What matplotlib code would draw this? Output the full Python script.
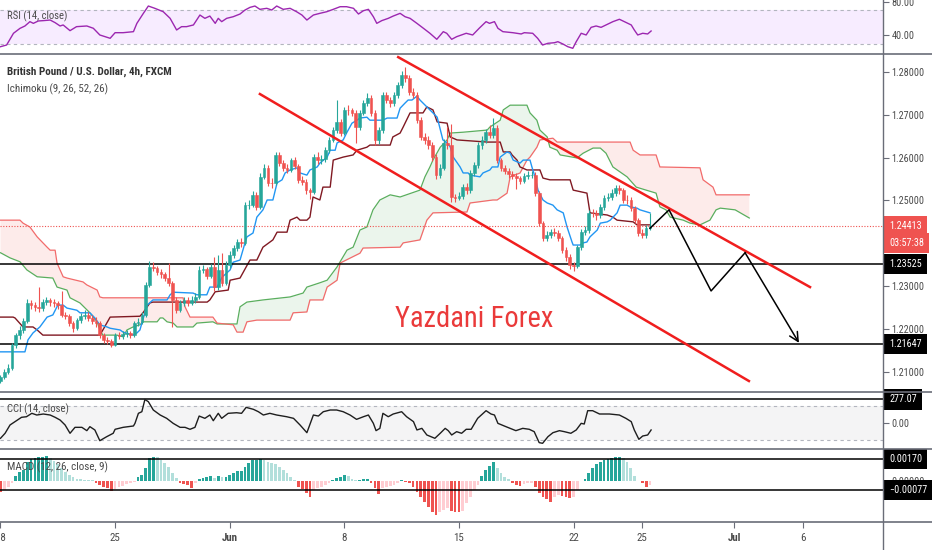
import numpy as np
import matplotlib
matplotlib.use('Agg')
import matplotlib.pyplot as plt
import matplotlib.transforms as mtransforms
from matplotlib import font_manager
from matplotlib.lines import Line2D

# the screenshot uses a narrow face; take the narrowest one installed
installed = {(f.name, f.stretch) for f in font_manager.fontManager.ttflist}
family, stretch = 'Liberation Sans', 'normal'
for cand in [('Liberation Sans Narrow', None), ('Roboto Condensed', None),
             ('Roboto', 'condensed'), ('DejaVu Sans', 'condensed')]:
    hits = [s for n, s in installed if n == cand[0] and (cand[1] is None or s == cand[1])]
    if hits:
        family, stretch = cand[0], (cand[1] or 'normal')
        break
plt.rcParams['font.family'] = [family, 'DejaVu Sans']
plt.rcParams['font.stretch'] = stretch

# GBP/USD 4h candles, bar 0 = Mon 18 May 00:00 (weekends skipped)
first_open = 1.2080
closes = [
    1.2088, 1.2100, 1.2109, 1.2163, 1.2186, 1.2198, 1.2219, 1.2261, 1.2256, 1.2251,
    1.2249, 1.2263, 1.2268, 1.2263, 1.2261, 1.2256, 1.2233, 1.2231, 1.2214, 1.2202,
    1.2221, 1.2231, 1.2233, 1.2226, 1.2219, 1.2214, 1.2186, 1.2175, 1.2172, 1.2163,
    1.2186, 1.2184, 1.2189, 1.2191, 1.2186, 1.2214, 1.2217, 1.2233, 1.2303, 1.2345,
    1.2342, 1.2333, 1.2328, 1.2319, 1.2307, 1.2268, 1.2244, 1.2261, 1.2268, 1.2261,
    1.2268, 1.2275, 1.2338, 1.2340, 1.2324, 1.2345, 1.2298, 1.2338, 1.2307, 1.2349,
    1.2373, 1.2389, 1.2403, 1.2401, 1.2489, 1.2490, 1.2513, 1.2485, 1.2555, 1.2576,
    1.2541, 1.2540, 1.2606, 1.2587, 1.2576, 1.2571, 1.2594, 1.2580, 1.2548, 1.2543,
    1.2524, 1.2520, 1.2601, 1.2594, 1.2596, 1.2617, 1.2641, 1.2664, 1.2683, 1.2657,
    1.2711, 1.2710, 1.2704, 1.2671, 1.2704, 1.2727, 1.2739, 1.2704, 1.2641, 1.2664,
    1.2746, 1.2734, 1.2727, 1.2745, 1.2769, 1.2792, 1.2785, 1.2753, 1.2746, 1.2687,
    1.2648, 1.2641, 1.2629, 1.2601, 1.2559, 1.2576, 1.2634, 1.2629, 1.2508, 1.2506,
    1.2510, 1.2531, 1.2524, 1.2564, 1.2583, 1.2629, 1.2641, 1.2659, 1.2652, 1.2669,
    1.2594, 1.2576, 1.2569, 1.2562, 1.2557, 1.2552, 1.2545, 1.2557, 1.2559, 1.2560,
    1.2517, 1.2447, 1.2412, 1.2419, 1.2426, 1.2425, 1.2412, 1.2384, 1.2368, 1.2349,
    1.2347, 1.2391, 1.2426, 1.2431, 1.2471, 1.2470, 1.2466, 1.2485, 1.2506, 1.2508,
    1.2517, 1.2529, 1.2524, 1.2501, 1.2500, 1.2482, 1.2454, 1.2424, 1.2419, 1.2435,
    1.2441]
highs = [
    1.2094, 1.2106, 1.2118, 1.2168, 1.2192, 1.2207, 1.2226, 1.2270, 1.2268, 1.2263,
    1.2298, 1.2271, 1.2276, 1.2273, 1.2270, 1.2266, 1.2289, 1.2240, 1.2236, 1.2219,
    1.2226, 1.2238, 1.2245, 1.2240, 1.2232, 1.2228, 1.2219, 1.2190, 1.2181, 1.2178,
    1.2191, 1.2193, 1.2196, 1.2199, 1.2196, 1.2219, 1.2226, 1.2240, 1.2310, 1.2358,
    1.2356, 1.2348, 1.2340, 1.2334, 1.2354, 1.2312, 1.2275, 1.2268, 1.2276, 1.2274,
    1.2277, 1.2284, 1.2346, 1.2350, 1.2345, 1.2352, 1.2368, 1.2373, 1.2378, 1.2358,
    1.2381, 1.2397, 1.2411, 1.2412, 1.2497, 1.2502, 1.2522, 1.2520, 1.2563, 1.2586,
    1.2583, 1.2553, 1.2614, 1.2613, 1.2594, 1.2585, 1.2600, 1.2602, 1.2586, 1.2556,
    1.2550, 1.2530, 1.2608, 1.2612, 1.2606, 1.2624, 1.2648, 1.2672, 1.2733, 1.2690,
    1.2718, 1.2722, 1.2716, 1.2710, 1.2711, 1.2735, 1.2751, 1.2745, 1.2710, 1.2672,
    1.2752, 1.2753, 1.2741, 1.2752, 1.2776, 1.2801, 1.2811, 1.2792, 1.2761, 1.2752,
    1.2695, 1.2657, 1.2650, 1.2636, 1.2608, 1.2584, 1.2642, 1.2670, 1.2678, 1.2516,
    1.2520, 1.2538, 1.2540, 1.2571, 1.2590, 1.2636, 1.2649, 1.2667, 1.2675, 1.2692,
    1.2676, 1.2600, 1.2583, 1.2575, 1.2568, 1.2564, 1.2558, 1.2564, 1.2568, 1.2569,
    1.2566, 1.2522, 1.2452, 1.2428, 1.2434, 1.2436, 1.2432, 1.2418, 1.2391, 1.2374,
    1.2356, 1.2397, 1.2433, 1.2440, 1.2478, 1.2480, 1.2477, 1.2492, 1.2513, 1.2517,
    1.2526, 1.2536, 1.2537, 1.2530, 1.2512, 1.2507, 1.2488, 1.2460, 1.2433, 1.2442,
    1.2471]
lows = [
    1.2074, 1.2083, 1.2095, 1.2104, 1.2157, 1.2178, 1.2190, 1.2214, 1.2248, 1.2242,
    1.2240, 1.2243, 1.2256, 1.2255, 1.2252, 1.2248, 1.2228, 1.2224, 1.2207, 1.2194,
    1.2198, 1.2215, 1.2224, 1.2219, 1.2212, 1.2206, 1.2180, 1.2168, 1.2165, 1.2158,
    1.2160, 1.2176, 1.2178, 1.2182, 1.2179, 1.2181, 1.2207, 1.2211, 1.2228, 1.2298,
    1.2335, 1.2327, 1.2320, 1.2312, 1.2300, 1.2205, 1.2238, 1.2240, 1.2255, 1.2253,
    1.2256, 1.2261, 1.2270, 1.2330, 1.2317, 1.2320, 1.2290, 1.2292, 1.2300, 1.2303,
    1.2343, 1.2366, 1.2382, 1.2392, 1.2396, 1.2480, 1.2484, 1.2478, 1.2480, 1.2550,
    1.2533, 1.2530, 1.2535, 1.2580, 1.2568, 1.2563, 1.2566, 1.2573, 1.2541, 1.2536,
    1.2516, 1.2503, 1.2515, 1.2586, 1.2585, 1.2590, 1.2611, 1.2636, 1.2657, 1.2650,
    1.2652, 1.2700, 1.2696, 1.2634, 1.2664, 1.2698, 1.2720, 1.2696, 1.2630, 1.2632,
    1.2657, 1.2727, 1.2718, 1.2720, 1.2738, 1.2762, 1.2776, 1.2746, 1.2738, 1.2680,
    1.2640, 1.2632, 1.2620, 1.2593, 1.2551, 1.2552, 1.2570, 1.2620, 1.2497, 1.2497,
    1.2500, 1.2503, 1.2515, 1.2518, 1.2557, 1.2576, 1.2621, 1.2633, 1.2645, 1.2645,
    1.2587, 1.2568, 1.2561, 1.2553, 1.2549, 1.2526, 1.2538, 1.2540, 1.2550, 1.2552,
    1.2510, 1.2440, 1.2405, 1.2405, 1.2412, 1.2416, 1.2406, 1.2377, 1.2358, 1.2340,
    1.2336, 1.2342, 1.2385, 1.2419, 1.2425, 1.2462, 1.2455, 1.2459, 1.2478, 1.2499,
    1.2501, 1.2510, 1.2516, 1.2494, 1.2492, 1.2475, 1.2447, 1.2416, 1.2412, 1.2413,
    1.2430]

# Ichimoku (9, 26, 52, 26) as (bar, price) points
tenkan_idx = [0, 6.4, 7.2, 8.5, 10.3, 12.2, 13.7, 15, 16.4, 17.4, 20, 20.8, 23.4, 24.7, 26,
              27.9, 28.7, 31.3, 32.1, 34.7, 35.7, 36.5, 37, 38.4, 39.9, 43.6, 44.4, 45.2,
              50.4, 51.4, 54, 54.8, 56.7, 58, 60.1, 60.9, 62.7, 64, 64.5, 66.1, 67.1, 68.7,
              69.8, 71.3, 72.4, 73.7, 74.5, 75.8, 77.6, 78.4, 80.2, 81, 82.9, 83.6, 85.5,
              86.3, 87.6, 88.1, 89.7, 90.7, 92, 93.3, 94.1, 95.9, 96.7, 100.1, 101.2, 103.8,
              104.6, 105.9, 106.7, 107.7, 109, 109.8, 111.6, 113.2, 114.3, 115.8, 116.9,
              117.7, 118.5, 120.3, 121.1, 122.4, 122.9, 125.5, 126.3, 128.1, 128.7, 130.2,
              130.8, 132.6, 133.4, 134.2, 136, 136.8, 138.6, 139.1, 139.9, 140.7, 142, 143.1,
              144.6, 145.7, 147.3, 148.3, 149.6, 149.9, 151.7, 152.5, 153.5, 154.3, 156.2,
              157, 158.8, 159.6, 161.4, 162.2, 164, 164.8, 166.6, 167.4, 170]
tenkan_val = [1.2147, 1.2147, 1.2175, 1.2191, 1.2205, 1.2228, 1.2233, 1.2256, 1.2256, 1.2249,
              1.2244, 1.2238, 1.2238, 1.2226, 1.2210, 1.2205, 1.2202, 1.2198, 1.2193, 1.2186,
              1.2191, 1.2198, 1.2214, 1.2256, 1.2268, 1.2268, 1.2280, 1.2286, 1.2284, 1.2280,
              1.2280, 1.2298, 1.2298, 1.2321, 1.2338, 1.2356, 1.2361, 1.2401, 1.2415, 1.2424,
              1.2461, 1.2478, 1.2501, 1.2501, 1.2541, 1.2548, 1.2564, 1.2571, 1.2576, 1.2564,
              1.2559, 1.2571, 1.2578, 1.2587, 1.2601, 1.2617, 1.2617, 1.2634, 1.2641, 1.2659,
              1.2680, 1.2687, 1.2692, 1.2694, 1.2687, 1.2687, 1.2692, 1.2692, 1.2715, 1.2727,
              1.2734, 1.2734, 1.2743, 1.2734, 1.2718, 1.2704, 1.2694, 1.2641, 1.2634, 1.2625,
              1.2601, 1.2578, 1.2564, 1.2564, 1.2559, 1.2555, 1.2564, 1.2571, 1.2578, 1.2578,
              1.2601, 1.2613, 1.2610, 1.2594, 1.2587, 1.2594, 1.2594, 1.2578, 1.2555, 1.2524,
              1.2501, 1.2494, 1.2489, 1.2478, 1.2471, 1.2438, 1.2403, 1.2396, 1.2396, 1.2401,
              1.2403, 1.2415, 1.2431, 1.2447, 1.2450, 1.2454, 1.2471, 1.2489, 1.2489, 1.2485,
              1.2482, 1.2478, 1.2471]
kijun_idx = [0, 3.3, 3.8, 5.9, 8.5, 9.6, 11.1, 26, 26.8, 28.7, 36.5, 37.3, 39.1, 39.9, 54.1,
             54.8, 56.2, 59.6, 60.1, 62.7, 65.3, 67.1, 68.7, 71.3, 72.4, 75, 75.8, 77.6, 78.4,
             80.2, 81, 81.8, 83.6, 84.4, 86.3, 87.1, 89.7, 92.3, 93.3, 95.9, 96.7, 102, 102.7,
             104.6, 105.4, 107.2, 110.6, 111.6, 113.2, 114.3, 116.9, 117.7, 119.5, 127.4,
             130.8, 131.6, 133.4, 133.9, 135.2, 136, 137.8, 141.2, 142, 143.8, 149.1, 149.9,
             153.5, 154.3, 158.8, 160.3, 161.4, 165.6, 166.6, 170]
kijun_val = [1.2228, 1.2228, 1.2226, 1.2205, 1.2205, 1.2198, 1.2186, 1.2186, 1.2198, 1.2228,
             1.2230, 1.2238, 1.2261, 1.2263, 1.2263, 1.2268, 1.2287, 1.2291, 1.2314, 1.2319,
             1.2361, 1.2361, 1.2391, 1.2408, 1.2426, 1.2426, 1.2454, 1.2461, 1.2454, 1.2454,
             1.2461, 1.2508, 1.2501, 1.2531, 1.2531, 1.2594, 1.2601, 1.2606, 1.2617, 1.2624,
             1.2629, 1.2629, 1.2648, 1.2657, 1.2671, 1.2704, 1.2704, 1.2718, 1.2711, 1.2683,
             1.2680, 1.2648, 1.2641, 1.2636, 1.2636, 1.2613, 1.2613, 1.2606, 1.2594, 1.2578,
             1.2571, 1.2571, 1.2552, 1.2548, 1.2548, 1.2524, 1.2517, 1.2471, 1.2466, 1.2461,
             1.2454, 1.2450, 1.2443, 1.2443]
spana_idx = [0, 2.5, 5.1, 6.9, 9.6, 13.7, 14.8, 17.4, 18.2, 20.8, 23.4, 25.3, 26, 26.8, 30.5,
             32.1, 33.1, 34.7, 36.5, 37.3, 41, 41.8, 42.5, 43.6, 45.2, 46.2, 50.4, 51.4, 55.6,
             56.7, 61.9, 62.7, 64.5, 68.7, 75.8, 79.2, 80.2, 83.6, 85.5, 88.1, 90.7, 92.3,
             94.1, 95.9, 97.5, 99.3, 102, 104.6, 109.8, 111.1, 112.4, 113.2, 115.1, 116.9,
             117.7, 121.1, 127.4, 128.1, 130.8, 131.6, 133.4, 137.8, 138.6, 140.4, 141.2,
             143.1, 143.8, 145.7, 146.5, 150.9, 152.5, 155.1, 157, 158.5, 160.3, 164, 166.4,
             171.6, 172.6, 174.2, 175.3, 178.7, 180.5, 183.1, 185.7, 187.3, 188.4, 192.3, 196]
spana_val = [1.2378, 1.2366, 1.2357, 1.2338, 1.2322, 1.2319, 1.2298, 1.2291, 1.2273, 1.2261,
             1.2238, 1.2217, 1.2198, 1.2186, 1.2186, 1.2182, 1.2198, 1.2205, 1.2210, 1.2217,
             1.2217, 1.2226, 1.2226, 1.2217, 1.2214, 1.2205, 1.2205, 1.2214, 1.2217, 1.2212,
             1.2212, 1.2252, 1.2263, 1.2268, 1.2275, 1.2284, 1.2298, 1.2308, 1.2314, 1.2345,
             1.2384, 1.2391, 1.2431, 1.2438, 1.2478, 1.2501, 1.2513, 1.2508, 1.2524, 1.2555,
             1.2578, 1.2594, 1.2624, 1.2641, 1.2657, 1.2659, 1.2664, 1.2671, 1.2687, 1.2711,
             1.2722, 1.2722, 1.2704, 1.2687, 1.2664, 1.2648, 1.2624, 1.2617, 1.2606, 1.2599,
             1.2610, 1.2622, 1.2622, 1.2610, 1.2578, 1.2555, 1.2531, 1.2517, 1.2485, 1.2478,
             1.2461, 1.2454, 1.2447, 1.2443, 1.2454, 1.2478, 1.2482, 1.2478, 1.2459]
spanb_idx = [0, 5.1, 5.9, 7.7, 9.6, 12.2, 13, 14.3, 14.8, 16.4, 17.4, 21.6, 22.6, 25.3, 26,
             26.8, 47.8, 48.3, 49.6, 55.6, 56.7, 60.9, 61.9, 63.5, 64.5, 67.1, 75.8, 76.6,
             80.2, 81, 84.4, 85.5, 88.1, 88.9, 94.1, 94.9, 104.6, 105.4, 109.8, 111.6, 113.2,
             122.1, 122.9, 128.9, 130, 132.6, 133.4, 136, 137.8, 138.6, 140.4, 141.2, 144.6,
             145.7, 164.8, 165.6, 167.4, 171.6, 172.6, 183.1, 183.9, 186.5, 187.3, 196]
spanb_val = [1.2454, 1.2454, 1.2447, 1.2438, 1.2415, 1.2391, 1.2384, 1.2384, 1.2354, 1.2322,
             1.2319, 1.2310, 1.2303, 1.2291, 1.2275, 1.2273, 1.2273, 1.2252, 1.2228, 1.2228,
             1.2214, 1.2210, 1.2193, 1.2193, 1.2217, 1.2221, 1.2221, 1.2238, 1.2240, 1.2268,
             1.2268, 1.2298, 1.2314, 1.2354, 1.2377, 1.2389, 1.2391, 1.2401, 1.2408, 1.2454,
             1.2471, 1.2473, 1.2494, 1.2501, 1.2501, 1.2517, 1.2555, 1.2564, 1.2594, 1.2601,
             1.2624, 1.2641, 1.2645, 1.2636, 1.2636, 1.2617, 1.2606, 1.2606, 1.2578, 1.2576,
             1.2548, 1.2531, 1.2513, 1.2513]

# RSI (14) and CCI (14) read as (bar, value) points
rsi_idx = [0, 1.6, 3.4, 5.1, 6.4, 7.7, 8.6, 9.9, 11.2, 13, 14.3, 15.6, 16.4, 18.2, 19.9, 22.6,
           24.3, 26, 28.7, 30, 32.1, 34.8, 35.7, 37.4, 38.7, 40.4, 42.6, 44.4, 46.1, 47.4,
           48.7, 50.5, 52.2, 53.5, 54.8, 56.2, 57, 57.9, 59.2, 60.9, 62.7, 64, 65.3, 66.6,
           67.9, 69.7, 71, 72.3, 74, 75.8, 77.5, 78.9, 80.2, 81.9, 83.6, 85.4, 87.1, 88.9,
           90.6, 92.4, 93.7, 95, 96.3, 97.6, 98.5, 99.8, 101.5, 102.8, 104.6, 105.9, 107.2,
           109, 110.7, 112.4, 114.2, 115.9, 116.8, 118.1, 119.4, 121.9, 123.6, 125.3, 127.1,
           128, 129.3, 130.2, 131.5, 134.1, 136.3, 137.1, 139.3, 140.6, 141.9, 143.3, 145,
           145.9, 147.2, 148.5, 149.8, 150.7, 152, 153.3, 154.6, 155.9, 157.2, 158.5, 160.3,
           162, 163.3, 165.1, 165.9, 166.8, 168.1, 169.4, 170.3]
rsi_val = [26.8, 28.8, 42.6, 48.4, 51.2, 56.3, 54.3, 57.1, 57.5, 58.2, 55.1, 51.2, 52.4, 45.7,
           50.4, 51.2, 48.5, 40.6, 36.7, 43.3, 43.3, 44.5, 54.3, 66.1, 74.7, 72.0, 68.0, 60.2,
           46.5, 50.4, 50.4, 52.4, 64.1, 60.2, 62.9, 54.3, 60.2, 56.3, 60.2, 62.1, 65.3, 70.0,
           73.1, 74.7, 70.8, 72.0, 70.0, 74.7, 70.8, 72.0, 68.0, 64.1, 58.2, 64.1, 66.1, 68.0,
           70.8, 73.9, 73.9, 72.0, 65.3, 69.2, 70.8, 62.1, 54.3, 57.5, 60.2, 62.9, 66.1, 62.1,
           60.2, 54.3, 48.5, 42.6, 35.5, 44.5, 42.6, 35.5, 38.6, 42.6, 40.6, 48.5, 56.3, 54.3,
           56.3, 48.5, 44.5, 43.3, 41.8, 43.3, 42.6, 36.7, 28.8, 30.8, 31.5, 32.7, 30.0, 26.8,
           24.9, 32.7, 42.6, 40.6, 49.6, 51.2, 49.6, 52.4, 56.3, 59.1, 56.3, 52.4, 46.5, 40.6,
           42.6, 41.8, 45.3]
cci_idx = [0, 1.2, 2.5, 3.8, 5.5, 6.8, 8.2, 9.5, 11.2, 13, 14.3, 15.6, 16.9, 18.2, 19.5, 21.3,
           22.6, 23.4, 24.7, 26, 27.8, 29.5, 30, 32.1, 34.8, 35.2, 36.1, 37, 37.8, 38.7, 40,
           41.8, 43.5, 45.2, 47, 48.3, 49.6, 50.9, 52, 53.5, 54.8, 55.7, 57, 57.9, 59.6, 61.8,
           63.1, 64.3, 66.2, 67.5, 68.8, 70.5, 72.3, 74.9, 76.7, 78.4, 80.2, 81.9, 83.2, 84.5,
           86.3, 88, 89.7, 91.5, 93.2, 95, 96.3, 97.6, 98.3, 99.3, 100.1, 101.5, 102.8, 105,
           106.3, 108.1, 109, 110.3, 111.6, 113.7, 115.1, 116.4, 117.2, 118.1, 119.4, 120.7,
           121.9, 123.2, 124.9, 127.1, 128.4, 129.3, 130.2, 132.3, 134.9, 136.7, 138.4, 139.7,
           141, 141.9, 143.3, 144.6, 146.3, 147.6, 149.3, 150.7, 152, 152.8, 153.7, 155, 156.8,
           159.4, 162, 163.7, 165.1, 165.9, 167.1, 168.1, 169.4, 170.3]
cci_val = [-180, -121, -23, 16, 67, 74, 114, 94, 106, 94, 67, 35, -23, -121, -51, -51, -90,
           -43, -82, -208, -161, -121, -74, -51, -35, -4, 114, 133, 277.07, 251, 153, 94, 55,
           -4, -51, -51, -74, -51, 82, 55, 94, 27, 114, 55, 114, 121, 114, 184, 161, 133, 94,
           114, 94, 74, 55, -23, -114, 94, 82, 133, 153, 153, 133, 94, 43, 74, 94, -4, -90,
           -63, 114, 74, 106, 133, 74, 16, -82, -63, -141, -180, -121, -63, -90, -141, -102,
           -121, -74, -74, 55, 145, 106, 94, -4, -43, -90, -63, -74, -102, -231, -239, -161,
           -114, -90, -102, -121, -82, -4, -12, 145, 145, 106, 106, 94, 55, 16, -82, -192,
           -153, -141, -82]

# MACD (12, 26, 9) histogram, one value per bar
macd_hist = [
    -0.00088, -0.00075, -0.00050, -0.00020, 0.00037, 0.00072, 0.00085, 0.00150, 0.00170, 0.00180,
    0.00190, 0.00192, 0.00195, 0.00180, 0.00160, 0.00130, 0.00100, 0.00070, 0.00045, 0.00025,
    0.00012, 0.00010, 0.00008, 0.00005, 0.00003, -0.00020, -0.00035, -0.00050, -0.00060, -0.00083,
    -0.00070, -0.00055, -0.00040, -0.00030, -0.00020, -0.00010, 0.00027, 0.00045, 0.00100, 0.00180,
    0.00190, 0.00187, 0.00165, 0.00140, 0.00110, 0.00064, 0.00020, -0.00016, -0.00027, -0.00035,
    -0.00056, -0.00016, 0.00010, 0.00020, 0.00027, 0.00040, 0.00020, 0.00037, 0.00027, 0.00032,
    0.00045, 0.00059, 0.00077, 0.00078, 0.00110, 0.00144, 0.00165, 0.00168, 0.00174, 0.00165,
    0.00150, 0.00140, 0.00133, 0.00110, 0.00085, 0.00059, 0.00027, 0.00005, -0.00048, -0.00070,
    -0.00100, -0.00128, -0.00075, -0.00060, -0.00048, -0.00035, -0.00020, 0.00005, 0.00020, 0.00027,
    0.00045, 0.00037, 0.00010, 0.00002, 0.00008, 0.00010, 0.00014, -0.00020, -0.00060, -0.00107,
    -0.00060, -0.00048, -0.00043, -0.00035, -0.00020, 0.00005, -0.00008, -0.00020, -0.00048, -0.00088,
    -0.00128, -0.00168, -0.00214, -0.00248, -0.00275, -0.00248, -0.00235, -0.00220, -0.00245, -0.00250,
    -0.00252, -0.00240, -0.00180, -0.00128, -0.00075, -0.00035, 0.00037, 0.00085, 0.00117, 0.00147,
    0.00100, 0.00059, 0.00027, 0.00010, -0.00016, -0.00035, -0.00043, -0.00027, -0.00020, -0.00018,
    -0.00048, -0.00100, -0.00128, -0.00150, -0.00168, -0.00128, -0.00115, -0.00123, -0.00133, -0.00141,
    -0.00128, -0.00075, -0.00005, 0.00010, 0.00059, 0.00100, 0.00133, 0.00150, 0.00165, 0.00174,
    0.00179, 0.00187, 0.00190, 0.00179, 0.00150, 0.00100, 0.00037, 0.00000, -0.00020, -0.00053,
    -0.00035]

# drawings
channel_upper_idx = [104.1, 211.9]
channel_upper_val = [1.2834, 1.2298]
channel_lower_idx = [67.9, 195.9]
channel_lower_val = [1.2748, 1.2079]
path_idx = [170, 175, 186, 194.9, 209]
path_val = [1.2435, 1.2478, 1.2289, 1.2378, 1.2168]
last_price = 1.24413
support_1 = 1.23525
support_2 = 1.21647
cci_mark = 277.07
macd_upper = 0.00170
macd_lower = -0.00077

date_ticks = [0, 30, 60, 90, 120, 150, 168, 192, 210]
date_labels = ['18', '25', 'Jun', '8', '15', '22', '25', 'Jul', '6']

UP, DOWN = '#26a69a', '#ef5350'
GRID = '#6a6d78'
TXT = '#4a4a4a'
W, H = 932, 550
RIGHT = 883
XLIM = (-0.13, 231.0)

fig = plt.figure(figsize=(W / 100, H / 100), dpi=100)
fig.patch.set_facecolor('white')
renderer = fig.canvas.get_renderer()


def size_for(text, width_px, **kw):
    # font size that makes the text as wide as it is in the screenshot
    t = fig.text(0, 0, text, fontsize=10, **kw)
    w = t.get_window_extent(renderer).width
    t.remove()
    return 10 * width_px / w


FS_AXIS = min(size_for('1.28000', 32), 8.5)
FS_DATE = min(size_for('Jun', 16, fontweight='bold'), 9)


def panel(top, bottom, ylim):
    ax = fig.add_axes([0, 1 - bottom / H, RIGHT / W, (bottom - top) / H])
    ax.set_xlim(*XLIM)
    ax.set_ylim(*ylim)
    for s in ax.spines.values():
        s.set_visible(False)
    ax.yaxis.tick_right()
    ax.tick_params(axis='y', length=4, width=0.8, color=GRID, labelsize=FS_AXIS,
                   labelcolor=TXT, pad=2)
    ax.tick_params(axis='x', bottom=False, labelbottom=False)
    ax.patch.set_alpha(0)
    return ax


def tag(ax, value, text, face, dy=0):
    trans = mtransforms.blended_transform_factory(ax.transAxes, ax.transData)
    ax.annotate(text, xy=(1.0, value), xycoords=trans, xytext=(6, dy),
                textcoords='offset pixels', ha='left', va='center', fontsize=FS_AXIS,
                color='white', annotation_clip=False, zorder=10,
                bbox=dict(boxstyle='square,pad=0.5', fc=face, ec='none'))


def label(ax, text, yfrac, width_px, **kw):
    ax.text(7 / RIGHT, yfrac, text, transform=ax.transAxes, va='center',
            fontsize=size_for(text, width_px, **kw), **kw)


ax_rsi = panel(0, 54, (18.2, 81.8))
ax = panel(54, 392, (1.20534, 1.28413))
ax_cci = panel(392, 449, (-306, 365))
ax_macd = panel(449, 521.7, (-0.00328, 0.00252))

# ---- RSI
ax_rsi.axhspan(30, 70, color='#9915ff', alpha=0.08, lw=0)
for lvl in (30, 70):
    ax_rsi.axhline(lvl, color='#b2b5be', lw=0.8, ls=(0, (3, 3)))
ax_rsi.plot(rsi_idx, rsi_val, color='#9c27b0', lw=1.0)
ax_rsi.set_yticks([40, 80])
ax_rsi.yaxis.set_major_formatter(matplotlib.ticker.FormatStrFormatter('%.2f'))
label(ax_rsi, 'RSI (14, close)', 0.70, 60, color=TXT)

# ---- main price panel
grid = np.arange(0, 196.01, 0.25)
span_a = np.interp(grid, spana_idx, spana_val)
span_b = np.interp(grid, spanb_idx, spanb_val)
ax.fill_between(grid, span_a, span_b, where=span_a >= span_b, interpolate=True,
                color='#43a047', alpha=0.10, lw=0, zorder=1)
ax.fill_between(grid, span_a, span_b, where=span_a < span_b, interpolate=True,
                color='#f44336', alpha=0.10, lw=0, zorder=1)
ax.plot(spana_idx, spana_val, color='#5aae5e', lw=0.9, zorder=2)
ax.plot(spanb_idx, spanb_val, color='#f26b6b', lw=0.9, zorder=2)
ax.plot(kijun_idx, kijun_val, color='#801922', lw=1.0, zorder=2)
ax.plot(tenkan_idx, tenkan_val, color='#2196f3', lw=1.0, zorder=2)

ax.axhline(last_price, color=DOWN, lw=0.8, ls=(0, (1, 1.5)), zorder=2)
ax.axhline(support_1, color='black', lw=1.1, zorder=3)
ax.axhline(support_2, color='black', lw=1.1, zorder=3)

idx = np.arange(len(closes))
c = np.array(closes)
o = np.concatenate([[first_open], c[:-1]])
col = np.where(c >= o, UP, DOWN)
ax.vlines(idx, lows, highs, colors=col, lw=0.8, zorder=3)
ax.bar(idx, np.abs(c - o), bottom=np.minimum(o, c), width=0.7, color=col,
       edgecolor=col, linewidth=0.4, zorder=4)

ax.plot(channel_upper_idx, channel_upper_val, color='#f01e1e', lw=1.8, zorder=5)
ax.plot(channel_lower_idx, channel_lower_val, color='#f01e1e', lw=1.8, zorder=5)
ax.plot(path_idx[:-1], path_val[:-1], color='black', lw=1.1, zorder=5)
ax.annotate('', xy=(path_idx[-1], path_val[-1]), xytext=(path_idx[-2], path_val[-2]),
            arrowprops=dict(arrowstyle='->', color='black', lw=1.1,
                            mutation_scale=16, shrinkA=0, shrinkB=0), zorder=5)

ax.set_yticks([1.21, 1.22, 1.23, 1.25, 1.26, 1.27, 1.28])
ax.yaxis.set_major_formatter(matplotlib.ticker.FormatStrFormatter('%.5f'))
tag(ax, last_price, f'{last_price:.5f}', DOWN)
tag(ax, last_price, '03:57:38', DOWN, dy=-17)
tag(ax, support_1, f'{support_1:.5f}', 'black')
tag(ax, support_2, f'{support_2:.5f}', 'black')

label(ax, 'British Pound / U.S. Dollar, 4h, FXCM', 0.947, 166, color='#333333',
      fontweight='bold')
label(ax, 'Ichimoku (9, 26, 52, 26)', 0.896, 101, color=TXT)
ax.text(474 / RIGHT, 0.215, 'Yazdani Forex', transform=ax.transAxes,
        fontsize=size_for('Yazdani Forex', 158), color='#ea3a3a', ha='center',
        va='center', zorder=6)

# ---- CCI
ax_cci.axhspan(-200, 200, color='#787b86', alpha=0.08, lw=0)
for lvl in (-200, 200):
    ax_cci.axhline(lvl, color='#b2b5be', lw=0.8, ls=(0, (3, 3)))
ax_cci.axhline(cci_mark, color='black', lw=1.1)
ax_cci.plot(cci_idx, cci_val, color='#1e1e1e', lw=1.0)
ax_cci.set_yticks([0])
ax_cci.yaxis.set_major_formatter(matplotlib.ticker.FormatStrFormatter('%.2f'))
tag(ax_cci, cci_mark, f'{cci_mark:.2f}', 'black')
label(ax_cci, 'CCI (14, close)', 0.70, 62, color=TXT)

# ---- MACD histogram
h = np.array(macd_hist)
prev = np.concatenate([[0.0], h[:-1]])
hcol = np.where(h >= 0, np.where(h >= prev, '#26a69a', '#b2dfdb'),
                np.where(h < prev, '#ef5350', '#ffcdd2'))
ax_macd.bar(np.arange(len(h)), h, width=0.72, color=hcol, lw=0, zorder=2)
ax_macd.axhline(macd_upper, color='black', lw=1.1, zorder=3)
ax_macd.axhline(macd_lower, color='black', lw=1.1, zorder=3)
ax_macd.set_yticks([0])
ax_macd.yaxis.set_major_formatter(matplotlib.ticker.FormatStrFormatter('%.5f'))
tag(ax_macd, macd_upper, f'{macd_upper:.5f}', 'black')
tag(ax_macd, macd_lower, f'\u2212{abs(macd_lower):.5f}', 'black')
label(ax_macd, 'MACD (12, 26, close, 9)', 0.752, 101, color=TXT)

ax_macd.set_xticks(date_ticks)
ax_macd.set_xticklabels(date_labels)
ax_macd.tick_params(axis='x', bottom=True, labelbottom=True, length=4, width=0.8,
                    color=GRID, labelsize=FS_DATE, labelcolor=TXT, pad=4)
for lab in ax_macd.get_xticklabels():
    if lab.get_text() in ('Jun', 'Jul'):
        lab.set_fontweight('bold')

# panel separators and right scale border
for y in (54, 392, 449, 521.7):
    fig.add_artist(Line2D([0, 1], [1 - y / H] * 2, transform=fig.transFigure,
                          color=GRID, lw=1.2))
fig.add_artist(Line2D([RIGHT / W] * 2, [0, 1], transform=fig.transFigure,
                      color=GRID, lw=1.0))

fig.savefig('out.png', dpi=100, facecolor='white')
